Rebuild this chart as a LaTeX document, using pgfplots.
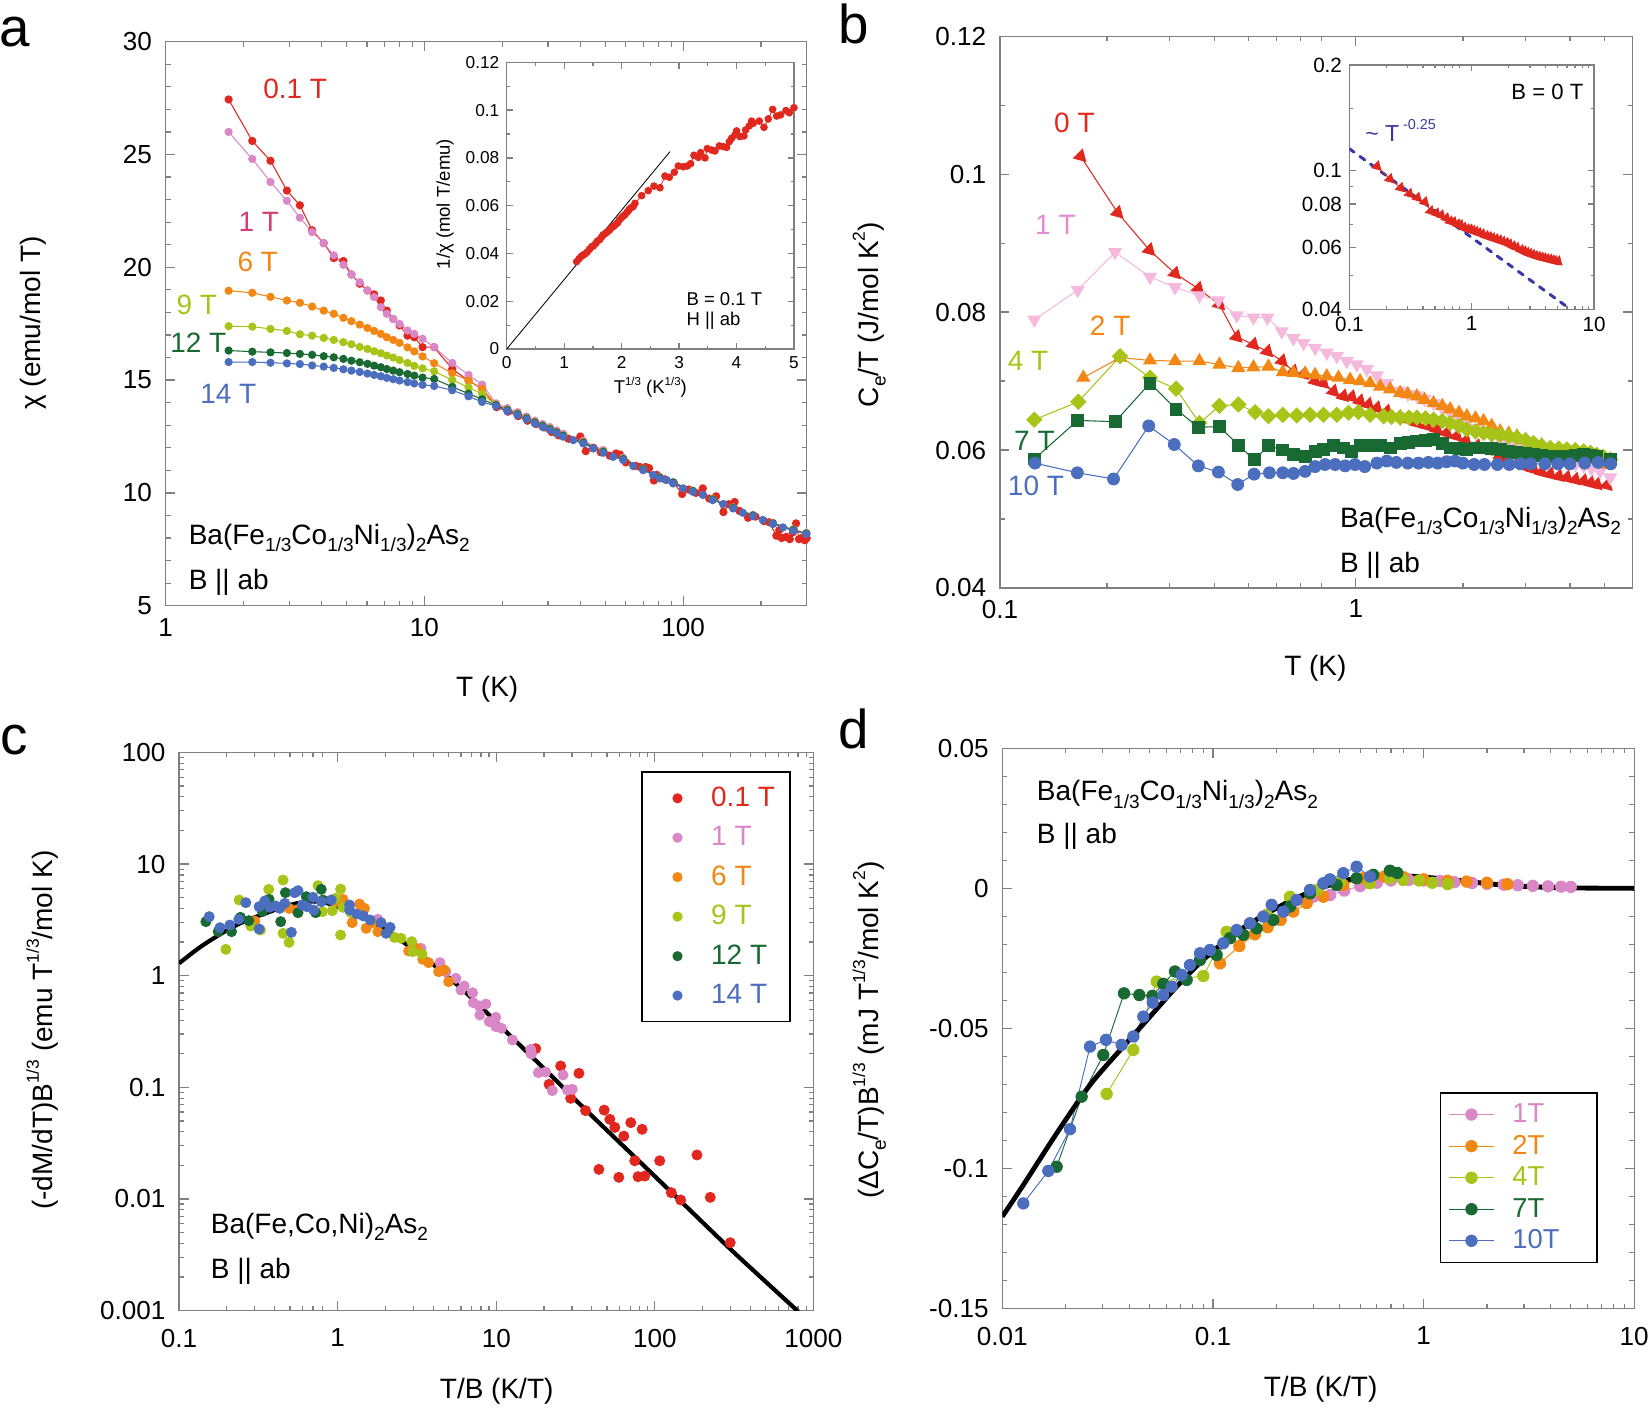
\documentclass[border=0pt]{standalone}
\usepackage{fontspec}
\setmainfont{Liberation Sans}
\usepackage{graphicx}
\usepackage{pgfplots}
\pgfplotsset{compat=1.18}

\newcommand\fs[1]{\fontsize{#1}{#1}\selectfont}
\newcommand\lsub[1]{\raisebox{-0.5ex}{\scalebox{0.68}{#1}}}
\newcommand\lsup[1]{\raisebox{0.9ex}{\scalebox{0.62}{#1}}}

\definecolor{cred}{RGB}{224,40,30}
\definecolor{cpink}{RGB}{218,135,200}
\definecolor{cpinklab}{RGB}{214,60,110}
\definecolor{clpink}{RGB}{246,185,222}
\definecolor{clpinklab}{RGB}{226,140,212}
\definecolor{corange}{RGB}{242,135,20}
\definecolor{cyg}{RGB}{168,196,25}
\definecolor{cdg}{RGB}{25,105,50}
\definecolor{cblue}{RGB}{75,110,190}
\definecolor{cdash}{RGB}{55,55,165}
\definecolor{frame}{RGB}{128,128,128}

\pgfplotsset{
  base/.style={
    scale only axis, anchor=south west,
    axis line style={draw=frame, line width=0.6pt},
    tick style={draw=frame, line width=0.6pt},
    major tick length=4.5pt, minor tick length=2.3pt,
    tick align=inside,
  },
  big/.style={base, ticklabel style={font=\fs{12.4}}, yticklabel style={xshift=-3pt}},
  small/.style={base, major tick length=3pt, minor tick length=1.6pt},
  aser/.style={color=#1, line width=0.5pt, mark=*, mark size=1.7pt, mark options={fill=#1, draw=#1}},
  cser/.style={only marks, color=#1, mark=*, mark size=2.4pt, mark options={fill=#1, draw=#1}},
  dser/.style={color=#1, line width=0.45pt, mark=*, mark size=2.7pt, mark options={fill=#1, draw=#1}},
}

\begin{document}
\begin{tikzpicture}[x=0.5pt,y=-0.5pt, lab/.style={inner sep=0pt, font=\fs{13.3}}]
\path[use as bounding box] (0,0) rectangle (1568,1338);

% ---------------- a: susceptibility
\begin{axis}[big, at={(78.75pt,-287.8pt)}, width=304.55pt, height=268pt,
  xmode=log, xmin=1, xmax=300, ymin=5, ymax=30,
  xtick={1,10,100}, xticklabels={1,10,100},
  minor xtick={2,3,...,9,20,30,...,90,200,300},
  ytick={5,10,15,20,25,30}, yticklabels={5,10,15,20,25,30}, minor y tick num=4,
  xticklabel style={yshift=-2.6pt}]
\addplot[aser=cred] coordinates {(1.75,27.44) (2.16,25.60) (2.54,24.72) (2.94,23.40) (3.30,22.75) (3.68,21.64) (4.08,21.07) (4.46,20.41) (4.86,20.28) (5.22,19.68) (5.62,19.27) (6.02,18.97) (6.39,18.80) (6.78,18.53) (7.15,18.08) (7.57,17.71) (8.01,17.42) (8.60,16.97) (9.13,16.90) (9.83,16.46) (10.9,16.46) (12.8,15.49) (14.8,14.98) (16.7,14.61) (19,13.8) (21,13.6) (23,13.4) (25,13.2) (27,13.05) (29,12.9) (31,12.7) (33,12.55) (36,12.4) (40,12.5) (42,11.85) (45,12.0) (48,11.8) (52,11.65) (55,11.75) (57,11.7) (60,11.35) (65.5,11.2) (68,11.15) (71.6,11.15) (73.8,11.1) (77,10.55) (79,10.8) (85,10.6) (92,10.45) (99,9.95) (105,10.15) (112,10.0) (119,10.2) (126,9.75) (134,9.85) (143,9.15) (150,9.5) (158,9.6) (165,9.2) (178,8.9) (190,8.95) (205,8.75) (215,8.7) (229,8.1) (235,8.35) (240,8.0) (250,8.05) (258,7.95) (265,8.25) (273,8.65) (280,7.95) (286,8.0) (295,7.9) (300,8.0)};
\addplot[aser=cpink] coordinates {(1.75,26.00) (2.16,24.80) (2.54,23.78) (2.94,22.95) (3.30,22.20) (3.68,21.56) (4.08,21.07) (4.46,20.53) (4.86,20.11) (5.22,19.68) (5.62,19.34) (6.02,18.97) (6.39,18.68) (6.78,18.23) (7.15,17.94) (7.57,17.71) (8.01,17.49) (8.60,17.20) (9.13,17.05) (9.83,16.83) (10.9,16.46) (12.8,15.76) (14.8,15.23) (16.7,14.80) (18.9,13.97) (20.9,13.76) (22.9,13.58) (24.8,13.39) (26.7,13.2) (28.6,13.05) (30.5,12.92) (32.4,12.77) (34.4,12.62) (41.1,12.31) (49.1,11.9) (58.6,11.56) (70,11.07) (81.2,10.7) (91.4,10.48) (109,10.1) (130,9.73) (156,9.36) (186,9.02) (222,8.67) (266,8.38) (299,8.22)};
\addplot[aser=corange] coordinates {(1.75,18.96) (2.16,18.87) (2.54,18.69) (2.94,18.53) (3.30,18.43) (3.68,18.26) (4.08,18.08) (4.46,17.94) (4.86,17.76) (5.22,17.61) (5.62,17.46) (6.02,17.31) (6.39,17.18) (6.78,17.05) (7.15,16.90) (7.57,16.78) (8.01,16.65) (8.60,16.45) (9.13,16.27) (9.83,16.05) (10.9,15.75) (12.8,15.30) (14.8,14.98) (16.7,14.61) (18.9,13.91) (20.9,13.69) (22.9,13.51) (24.8,13.32) (26.7,13.14) (28.6,12.99) (30.5,12.85) (32.4,12.7) (34.4,12.55) (41.1,12.25) (49.1,11.84) (58.6,11.5) (70,11.05) (81.2,10.68) (91.4,10.46) (109,10.08) (130,9.71) (156,9.34) (186,9.0) (222,8.65) (266,8.36) (299,8.2)};
\addplot[aser=cyg] coordinates {(1.75,17.39) (2.16,17.37) (2.54,17.27) (2.94,17.18) (3.30,17.03) (3.68,16.97) (4.08,16.87) (4.46,16.78) (4.86,16.68) (5.22,16.59) (5.62,16.47) (6.02,16.38) (6.39,16.28) (6.78,16.19) (7.15,16.09) (7.57,16.00) (8.01,15.89) (8.60,15.76) (9.13,15.63) (9.83,15.52) (10.9,15.39) (12.8,15.00) (14.8,14.68) (16.7,14.38) (18.9,13.9) (20.9,13.68) (22.9,13.5) (24.8,13.31) (26.7,13.13) (28.6,12.98) (30.5,12.84) (32.4,12.69) (34.4,12.54) (41.1,12.24) (49.1,11.83) (58.6,11.51) (70,11.06) (81.2,10.69) (91.4,10.47) (109,10.09) (130,9.72) (156,9.35) (186,9.01) (222,8.66) (266,8.37) (299,8.21)};
\addplot[aser=cdg] coordinates {(1.75,16.31) (2.16,16.26) (2.54,16.23) (2.94,16.20) (3.30,16.16) (3.68,16.12) (4.08,16.06) (4.46,16.01) (4.86,15.94) (5.22,15.86) (5.62,15.79) (6.02,15.72) (6.39,15.64) (6.78,15.57) (7.15,15.49) (7.57,15.42) (8.01,15.35) (8.60,15.27) (9.13,15.20) (9.83,15.11) (10.9,15.05) (12.8,14.7) (14.8,14.4) (16.7,14.15) (18.9,13.89) (20.9,13.67) (22.9,13.49) (24.8,13.3) (26.7,13.12) (28.6,12.97) (30.5,12.83) (32.4,12.68) (34.4,12.53) (41.1,12.23) (49.1,11.82) (58.6,11.5) (70,11.05) (81.2,10.68) (91.4,10.46) (109,10.08) (130,9.71) (156,9.34) (186,9.0) (222,8.65) (266,8.36) (299,8.2)};
\addplot[aser=cblue] coordinates {(1.75,15.80) (2.16,15.80) (2.54,15.77) (2.94,15.74) (3.30,15.71) (3.68,15.65) (4.08,15.60) (4.46,15.54) (4.86,15.48) (5.22,15.42) (5.62,15.36) (6.02,15.29) (6.39,15.23) (6.78,15.17) (7.15,15.10) (7.57,15.04) (8.01,14.98) (8.60,14.91) (9.13,14.85) (9.83,14.79) (10.9,14.74) (12.8,14.55) (14.8,14.28) (16.7,14.03) (18.9,13.85) (20.9,13.63) (22.9,13.45) (24.8,13.26) (26.7,13.08) (28.6,12.93) (30.5,12.79) (32.4,12.64) (34.4,12.49) (37.6,12.34) (41.1,12.19) (44.9,11.97) (49.1,11.78) (53.6,11.60) (58.6,11.46) (64.1,11.19) (70,11.01) (76.5,10.79) (81.2,10.64) (86.2,10.57) (91.4,10.42) (99.9,10.20) (109,10.05) (119,9.91) (130,9.68) (143,9.51) (156,9.31) (170,9.12) (186,8.97) (203,8.80) (222,8.62) (243,8.47) (266,8.33) (299,8.18)};
\end{axis}

% inset of a
\begin{axis}[small, at={(240.75pt,-165.85pt)}, width=136.5pt, height=136.25pt,
  xmin=0, xmax=5, ymin=0, ymax=0.12,
  xtick={0,1,2,3,4,5}, xticklabels={0,1,2,3,4,5}, minor x tick num=1,
  ytick={0,0.02,0.04,0.06,0.08,0.1,0.12}, yticklabels={0,0.02,0.04,0.06,0.08,0.1,0.12}, minor y tick num=1,
  ticklabel style={font=\fs{8.2}}]
\addplot[black, line width=0.4pt] coordinates {(0,0) (2.842,0.0826)};
\addplot[color=cred, line width=0.4pt, mark=*, mark size=1.6pt, mark options={fill=cred, draw=cred}] coordinates {(1.218,0.0366) (1.26,0.0378) (1.30,0.0388) (1.33,0.0393) (1.36,0.0398) (1.40,0.0405) (1.44,0.0417) (1.48,0.0428) (1.51,0.0432) (1.55,0.0442) (1.58,0.0452) (1.62,0.0458) (1.65,0.0468) (1.68,0.0478) (1.72,0.0484) (1.75,0.0490) (1.79,0.0498) (1.82,0.0508) (1.86,0.0513) (1.89,0.0520) (1.93,0.0528) (1.96,0.0540) (2.00,0.0550) (2.03,0.0557) (2.06,0.0563) (2.10,0.0574) (2.13,0.0583) (2.16,0.0591) (2.20,0.0596) (2.233,0.0610) (2.349,0.0642) (2.465,0.0663) (2.564,0.0682) (2.668,0.0675) (2.755,0.0724) (2.831,0.0719) (2.918,0.0740) (2.987,0.0766) (3.074,0.0763) (3.144,0.0766) (3.202,0.0776) (3.260,0.0811) (3.335,0.0802) (3.376,0.0822) (3.451,0.0800) (3.492,0.0839) (3.567,0.0833) (3.625,0.0829) (3.701,0.0850) (3.770,0.0847) (3.828,0.0844) (3.875,0.0868) (3.915,0.0882) (3.973,0.0896) (4.002,0.0913) (4.060,0.0889) (4.130,0.0892) (4.159,0.0917) (4.223,0.0934) (4.263,0.0954) (4.292,0.0945) (4.397,0.0954) (4.478,0.0928) (4.553,0.0963) (4.629,0.1003) (4.698,0.0975) (4.768,0.0980) (4.861,0.0998) (4.919,0.0989) (5.0,0.1010)};
\end{axis}

% ---------------- b: specific heat
\begin{axis}[big, at={(475.15pt,-279.35pt)}, width=300.6pt, height=262.1pt,
  xmode=log, xmin=0.1, xmax=6, ymin=0.04, ymax=0.12,
  xtick={0.1,1}, xticklabels={0.1,1},
  minor xtick={0.2,0.3,...,0.9,2,3,4,5,6},
  ytick={0.04,0.06,0.08,0.1,0.12}, yticklabels={0.04,0.06,0.08,0.1,0.12}, minor y tick num=1,
  xticklabel style={yshift=-2.1pt}]
\addplot[color=cred, line width=0.5pt, mark=triangle*, mark size=3.4pt, mark options={rotate=-15, fill=cred, draw=cred}] coordinates {(0.1685,0.1026) (0.2142,0.0944) (0.263,0.0890) (0.3105,0.0856) (0.361,0.0834) (0.4136,0.0811) (0.4627,0.0764) (0.5157,0.0753) (0.5645,0.0743) (0.6207,0.0729) (0.668,0.0714) (0.7128,0.0710) (0.7685,0.0700) (0.811,0.0697) (0.8654,0.0685) (0.923,0.0678) (0.974,0.0677) (1.028,0.0671) (1.085,0.0666) (1.146,0.0661) (1.222,0.0656) (1.318,0.0648) (1.40,0.0644) (1.485,0.0639) (1.585,0.0635) (1.69,0.0630) (1.80,0.0625) (1.923,0.0620) (2.04,0.0614) (2.19,0.0606) (2.34,0.0600) (2.546,0.0591) (2.69,0.0586) (2.837,0.0581) (2.99,0.0576) (3.16,0.0572) (3.33,0.0568) (3.52,0.0565) (3.72,0.0562) (3.92,0.0560) (4.14,0.0557) (4.37,0.0555) (4.57,0.0552) (4.76,0.0550) (5.08,0.0549)};
\addplot[color=clpink, line width=0.5pt, mark=triangle*, mark size=3.4pt, mark options={rotate=180, fill=clpink, draw=clpink}] coordinates {(0.1249,0.0789) (0.1654,0.0832) (0.2106,0.0887) (0.2641,0.0851) (0.3105,0.0836) (0.3634,0.0824) (0.4110,0.0817) (0.4627,0.0795) (0.5157,0.0792) (0.5645,0.0792) (0.6194,0.0772) (0.668,0.0762) (0.7128,0.0755) (0.7685,0.0748) (0.8288,0.0741) (0.8843,0.0736) (0.9434,0.0729) (1.0065,0.0724) (1.074,0.0717) (1.146,0.0708) (1.222,0.0697) (1.333,0.0686) (1.40,0.0681) (1.485,0.0679) (1.56,0.0674) (1.654,0.0668) (1.75,0.0661) (1.842,0.0654) (1.95,0.0646) (2.052,0.0639) (2.17,0.0632) (2.286,0.0625) (2.41,0.0620) (2.546,0.0615) (2.69,0.0610) (2.837,0.0606) (3.0,0.0601) (3.16,0.0596) (3.33,0.0592) (3.52,0.0589) (3.72,0.0585) (3.92,0.0581) (4.14,0.0579) (4.37,0.0577) (4.6,0.0573) (4.86,0.0569) (5.19,0.0560)};
\addplot[color=corange, line width=0.5pt, mark=triangle*, mark size=3.4pt, mark options={fill=corange, draw=corange}] coordinates {(0.1715,0.0705) (0.2175,0.0734) (0.2641,0.0730) (0.3105,0.0729) (0.3634,0.0729) (0.4136,0.0724) (0.4677,0.0719) (0.5157,0.0720) (0.5682,0.0721) (0.6234,0.0713) (0.668,0.0712) (0.7205,0.0711) (0.7685,0.0709) (0.8288,0.0707) (0.8941,0.0705) (0.9638,0.0702) (1.028,0.0700) (1.097,0.0697) (1.171,0.0692) (1.249,0.0688) (1.333,0.0683) (1.40,0.0681) (1.485,0.0678) (1.56,0.0673) (1.654,0.0668) (1.75,0.0664) (1.842,0.0659) (1.95,0.0654) (2.052,0.0649) (2.17,0.0646) (2.286,0.0642) (2.41,0.0635) (2.546,0.0627) (2.69,0.0624) (2.837,0.0620) (3.0,0.0615) (3.16,0.0610) (3.33,0.0607) (3.52,0.0603) (3.72,0.0600) (3.92,0.0596) (4.14,0.0594) (4.37,0.0591) (4.57,0.0589) (4.76,0.0586) (5.13,0.0579)};
\addplot[color=cyg, line width=0.5pt, mark=square*, mark size=2.5pt, mark options={rotate=45, fill=cyg, draw=cyg}] coordinates {(0.1249,0.0644) (0.1661,0.0670) (0.2175,0.0736) (0.2641,0.0705) (0.3125,0.0689) (0.3634,0.0639) (0.4136,0.0664) (0.4677,0.0666) (0.5212,0.0655) (0.5682,0.0649) (0.6234,0.0651) (0.6825,0.0650) (0.7439,0.0651) (0.811,0.0651) (0.8843,0.0651) (0.9537,0.0654) (1.017,0.0655) (1.097,0.0651) (1.197,0.0649) (1.26,0.0648) (1.333,0.0647) (1.41,0.0647) (1.485,0.0647) (1.57,0.0646) (1.654,0.0644) (1.75,0.0642) (1.842,0.0639) (1.95,0.0635) (2.052,0.0630) (2.17,0.0627) (2.286,0.0625) (2.41,0.0623) (2.546,0.0622) (2.69,0.0620) (2.837,0.0618) (3.0,0.0614) (3.16,0.0610) (3.33,0.0606) (3.52,0.0603) (3.72,0.0602) (3.92,0.0601) (4.14,0.0600) (4.37,0.0598) (4.57,0.0596) (4.76,0.0593) (4.96,0.0590) (5.19,0.0586)};
\addplot[color=cdg, line width=0.5pt, mark=square*, mark size=2.8pt, mark options={fill=cdg, draw=cdg}] coordinates {(0.1249,0.0587) (0.1654,0.0643) (0.2106,0.0641) (0.2641,0.0697) (0.3125,0.0659) (0.361,0.0633) (0.4136,0.0634) (0.4677,0.0607) (0.5178,0.0586) (0.5682,0.0606) (0.6234,0.0600) (0.668,0.0593) (0.7205,0.0591) (0.7685,0.0598) (0.811,0.0601) (0.8654,0.0606) (0.923,0.0603) (0.974,0.0598) (1.028,0.0606) (1.097,0.0607) (1.171,0.0606) (1.249,0.0603) (1.333,0.0610) (1.41,0.0611) (1.485,0.0613) (1.57,0.0614) (1.654,0.0615) (1.75,0.0610) (1.842,0.0603) (1.95,0.0602) (2.052,0.0601) (2.17,0.0603) (2.286,0.0603) (2.41,0.0602) (2.546,0.0601) (2.69,0.0598) (2.837,0.0596) (3.0,0.0595) (3.16,0.0593) (3.33,0.0592) (3.52,0.0591) (3.72,0.0591) (3.92,0.0591) (4.14,0.0592) (4.37,0.0593) (4.57,0.0592) (4.76,0.0591) (5.19,0.0586)};
\addplot[color=cblue, line width=0.5pt, mark=*, mark size=2.8pt, mark options={fill=cblue, draw=cblue}] coordinates {(0.1254,0.0581) (0.165,0.0567) (0.2085,0.0558) (0.2618,0.0635) (0.3089,0.0608) (0.361,0.0577) (0.4110,0.0568) (0.4657,0.0550) (0.5178,0.0565) (0.5718,0.0567) (0.6234,0.0567) (0.668,0.0566) (0.7205,0.0569) (0.7685,0.0576) (0.8197,0.0579) (0.8748,0.0579) (0.9331,0.0577) (0.9943,0.0579) (1.0597,0.0576) (1.146,0.0581) (1.222,0.0584) (1.30,0.0582) (1.40,0.0581) (1.50,0.0581) (1.60,0.0582) (1.70,0.0581) (1.80,0.0583) (1.90,0.0584) (2.0,0.0581) (2.15,0.0579) (2.3,0.0579) (2.5,0.0579) (2.7,0.0579) (2.9,0.0580) (3.1,0.0580) (3.4,0.0580) (3.7,0.0580) (4.0,0.0580) (4.4,0.0581) (4.8,0.0582) (5.2,0.0580)};
\end{axis}

% inset of b
\begin{axis}[small, at={(641.15pt,-146.95pt)}, width=116.25pt, height=116.05pt,
  xmode=log, ymode=log, xmin=0.1, xmax=10, ymin=0.04, ymax=0.2,
  xtick={0.1,1,10}, xticklabels={0.1,1,10},
  minor xtick={0.2,0.3,...,0.9,2,3,...,9},
  ytick={0.04,0.06,0.08,0.1,0.2}, yticklabels={0.04,0.06,0.08,0.1,0.2},
  minor ytick={0.05,0.07,0.09,0.15},
  ticklabel style={font=\fs{9.8}}]
\addplot[color=cdash, line width=1.4pt, dash pattern=on 2.8pt off 3.4pt, line cap=round] coordinates {(0.1,0.1152) (6.17,0.0404)};
\addplot[color=cred, line width=0.4pt, mark=triangle*, mark size=2.6pt, mark options={rotate=-15, fill=cred, draw=cred, solid}] coordinates {(0.1685,0.1026) (0.2142,0.0944) (0.263,0.0890) (0.3105,0.0856) (0.361,0.0834) (0.4136,0.0811) (0.4627,0.0764) (0.5157,0.0753) (0.5645,0.0743) (0.6207,0.0729) (0.668,0.0714) (0.7128,0.0710) (0.7685,0.0700) (0.811,0.0697) (0.8654,0.0685) (0.923,0.0678) (0.974,0.0677) (1.028,0.0671) (1.085,0.0666) (1.146,0.0661) (1.222,0.0656) (1.318,0.0648) (1.40,0.0644) (1.485,0.0639) (1.585,0.0635) (1.69,0.0630) (1.80,0.0625) (1.923,0.0620) (2.04,0.0614) (2.19,0.0606) (2.34,0.0600) (2.546,0.0591) (2.69,0.0586) (2.837,0.0581) (2.99,0.0576) (3.16,0.0572) (3.33,0.0568) (3.52,0.0565) (3.72,0.0562) (3.92,0.0560) (4.14,0.0557) (4.37,0.0555) (4.57,0.0552) (4.76,0.0550) (5.08,0.0549)};
\end{axis}

% ---------------- c: magnetization scaling
\begin{axis}[big, at={(85.1pt,-622.75pt)}, width=301.4pt, height=265.25pt,
  xmode=log, ymode=log, xmin=0.1, xmax=1000, ymin=0.001, ymax=100,
  xtick={0.1,1,10,100,1000}, xticklabels={0.1,1,10,100,1000},
  minor xtick={0.2,0.3,...,0.9,2,3,...,9,20,30,...,90,200,300,...,900},
  ytick={0.001,0.01,0.1,1,10,100}, yticklabels={0.001,0.01,0.1,1,10,100},
  minor ytick={0.002,0.003,0.004,0.005,0.006,0.007,0.008,0.009,0.02,0.03,0.04,0.05,0.06,0.07,0.08,0.09,0.2,0.3,0.4,0.5,0.6,0.7,0.8,0.9,2,3,...,9,20,30,...,90},
  xticklabel style={yshift=-5.2pt},
  legend style={at={(0.728,0.966)}, anchor=north west, draw=black, line width=0.8pt,
    font=\fs{13.3}, inner xsep=5pt, inner ysep=5pt, row sep=4pt},
  legend cell align=left,
  legend image code/.code={\path[draw=none, fill=none] (0pt,0pt) -- (26pt,0pt); \draw[#1, mark size=2pt] plot coordinates {(12pt,0pt)};}]
\addplot[black, line width=2pt, smooth, forget plot] coordinates {(0.1,1.291) (0.1419,1.884) (0.2301,2.844) (0.3733,3.741) (0.5495,4.446) (0.7691,4.603) (1.079,4.009) (1.585,3.155) (2.570,2.018) (4.169,1.205) (6.761,0.6607) (10.94,0.3388) (19.95,0.1479) (36.56,0.0631) (75.51,0.02344) (158.5,0.008511) (316.2,0.003311) (803.5,0.00098)};
\addplot[cser=cred] coordinates {(17.74,0.2221) (21.51,0.1064) (25.48,0.1554) (29.44,0.0798) (33.22,0.1336) (36.59,0.0619) (44.38,0.01843) (47.93,0.0626) (52.04,0.0517) (55.94,0.0438) (59.28,0.01563) (63.73,0.0366) (70.52,0.0483) (74.7,0.0220) (78.4,0.01585) (83.1,0.0421) (86.4,0.01606) (107.3,0.0220) (127.1,0.01139) (145.5,0.0098) (184.3,0.0248) (223.6,0.01035) (298.7,0.00406)};
\addlegendentry{\textcolor{cred}{0.1 T}}
\addplot[cser=cpink] coordinates {(1.791,3.198) (3.354,1.758) (4.417,1.309) (4.818,1.087) (5.569,0.9473) (6.283,0.8087) (5.987,0.7447) (7.089,0.7049) (7.158,0.5736) (7.807,0.5354) (8.600,0.5579) (7.883,0.4446) (9.026,0.3876) (9.938,0.4238) (9.938,0.3498) (10.79,0.3379) (12.65,0.2656) (16.50,0.2191) (16.50,0.2017) (16.7,0.1988) (18.44,0.1354) (20.50,0.1373) (22.58,0.0934) (26.36,0.1291) (28.05,0.0947) (30.16,0.0960)};
\addlegendentry{\textcolor{cpink}{1 T}}
\addplot[cser=corange] coordinates {(0.3001,3.090) (0.4935,4.012) (0.5488,3.876) (0.97,4.6) (1.079,4.831) (1.235,2.985) (1.373,4.388) (1.476,4.012) (1.512,2.657) (1.650,2.985) (1.791,2.480) (2.805,1.664) (3.150,1.758) (3.436,1.402) (3.748,1.309) (4.332,1.087) (4.704,1.125) (5.008,0.8842)};
\addlegendentry{\textcolor{corange}{6 T}}
\addplot[cser=cyg] coordinates {(0.1972,1.722) (0.2392,4.764) (0.2832,2.787) (0.3258,2.566) (0.3675,5.936) (0.4525,7.195) (0.4525,2.396) (0.4935,1.990) (0.7511,6.403) (0.7998,3.746) (0.9245,3.824) (0.9701,4.931) (1.043,5.977) (1.043,2.314) (1.079,4.096) (1.217,3.669) (2.280,2.206) (2.511,2.161) (2.930,2.018) (2.973,1.642) (3.403,1.564)};
\addlegendentry{\textcolor{cyg}{9 T}}
\addplot[cser=cdg] coordinates {(0.1476,3.048) (0.1765,2.480) (0.2141,2.480) (0.2438,3.333) (0.2752,3.112) (0.3354,3.746) (0.3693,4.831) (0.4374,3.048) (0.4681,5.543) (0.5622,3.669) (0.6344,5.103) (0.7261,3.669) (0.7882,5.936) (0.8076,4.764)};
\addlegendentry{\textcolor{cdg}{12 T}}
\addplot[cser=cblue] coordinates {(0.1549,3.379) (0.1809,2.693) (0.2090,2.845) (0.2380,3.198) (0.2634,4.510) (0.3195,4.152) (0.3195,2.620) (0.3469,4.667) (0.3729,4.096) (0.4070,4.210) (0.4311,4.012) (0.4636,4.448) (0.5105,2.446) (0.5358,5.543) (0.5622,5.776) (0.5987,4.297) (0.6405,4.152) (0.6988,5.034) (0.7056,3.876) (0.7882,4.604) (0.9112,4.764) (1.188,4.297) (1.188,3.876) (1.321,3.570) (1.455,3.426) (1.603,3.155) (1.879,2.985) (2.021,2.396) (2.141,2.712)};
\addlegendentry{\textcolor{cblue}{14 T}}
\end{axis}

% ---------------- d: specific heat scaling
\begin{axis}[big, at={(476.25pt,-621.7pt)}, width=300.25pt, height=266.15pt,
  xmode=log, xmin=0.01, xmax=10, ymin=-0.15, ymax=0.05,
  xtick={0.01,0.1,1,10}, xticklabels={0.01,0.1,1,10},
  minor xtick={0.02,0.03,0.04,0.05,0.06,0.07,0.08,0.09,0.2,0.3,...,0.9,2,3,...,9},
  ytick={-0.15,-0.1,-0.05,0,0.05}, yticklabels={-0.15,-0.1,-0.05,0,0.05}, minor y tick num=4,
  xticklabel style={yshift=-5.2pt},
  legend style={at={(0.692,0.386)}, anchor=north west, draw=black, line width=0.8pt,
    font=\fs{13}, inner xsep=4pt, inner ysep=3pt, row sep=0.5pt},
  legend cell align=left,
  legend image code/.code={\path[draw=none, fill=none] (0pt,0pt) -- (28pt,0pt); \draw[mark repeat=2, mark phase=2, #1] plot coordinates {(0cm,0cm) (0.37cm,0cm) (0.74cm,0cm)};}]
\addplot[dser=cpink] coordinates {(0.30,-0.003) (0.36,-0.0024) (0.42,-0.0008) (0.5,0.0008) (0.6,0.002) (0.7,0.0028) (0.85,0.003) (1.0,0.0028) (1.2,0.0026) (1.4,0.0022) (1.7,0.0019) (2.0,0.0016) (2.4,0.0013) (2.8,0.0011) (3.3,0.0009) (3.9,0.0007) (4.5,0.0006) (5.0,0.0005)};
\addlegendentry{\textcolor{cpink}{1T}}
\addplot[dser=corange] coordinates {(0.1080,-0.0268) (0.1334,-0.0206) (0.1583,-0.0164) (0.1818,-0.0139) (0.2096,-0.0113) (0.2407,-0.0083) (0.2785,-0.0053) (0.3342,-0.0030) (0.4157,0.0012) (0.5172,0.0036) (0.65,0.0042) (0.8,0.004) (1.0,0.0032) (1.3,0.0027) (1.6,0.0024) (2.0,0.002) (2.5,0.0015)};
\addlegendentry{\textcolor{corange}{2T}}
\addplot[dser=cyg] coordinates {(0.03128,-0.0734) (0.04188,-0.0577) (0.05405,-0.0333) (0.09001,-0.0313) (0.1161,-0.0155) (0.1498,-0.0125) (0.1798,-0.0095) (0.2320,-0.0030) (0.3105,-0.0006) (0.4009,0.0024) (0.5563,0.0018) (0.6922,0.0036) (0.8,0.003) (0.95,0.0028) (1.1,0.002) (1.3,0.0015)};
\addlegendentry{\textcolor{cyg}{4T}}
\addplot[dser=cdg] coordinates {(0.01811,-0.0994) (0.02380,-0.0744) (0.03017,-0.0595) (0.03783,-0.0375) (0.04472,-0.0381) (0.05156,-0.0384) (0.05812,-0.0341) (0.06602,-0.0297) (0.07501,-0.0327) (0.08680,-0.0256) (0.1041,-0.0238) (0.1205,-0.0178) (0.1393,-0.0166) (0.1612,-0.0143) (0.1934,-0.0113) (0.2320,-0.0065) (0.2888,-0.0018) (0.3865,0.0012) (0.4809,0.0036) (0.5771,0.0048) (0.6922,0.0063) (0.75,0.0055)};
\addlegendentry{\textcolor{cdg}{7T}}
\addplot[dser=cblue] coordinates {(0.01258,-0.1125) (0.01654,-0.1009) (0.02096,-0.0860) (0.02608,-0.0565) (0.03106,-0.0541) (0.03686,-0.0559) (0.04188,-0.0529) (0.04671,-0.0458) (0.05175,-0.0408) (0.05812,-0.0381) (0.06368,-0.0351) (0.07102,-0.0309) (0.07780,-0.0274) (0.08680,-0.0232) (0.09680,-0.0220) (0.1120,-0.0196) (0.1296,-0.0149) (0.1498,-0.0125) (0.1734,-0.0101) (0.1899,-0.0059) (0.2158,-0.0083) (0.2496,-0.0042) (0.2888,-0.0006) (0.3342,0.0018) (0.3592,0.0032) (0.4157,0.0054) (0.4809,0.0077) (0.5563,0.0042)};
\addlegendentry{\makebox[34pt][l]{\textcolor{cblue}{10T}}}
\addplot[black, line width=2.3pt, smooth, forget plot] coordinates {(0.01,-0.1172) (0.01259,-0.1059) (0.01811,-0.0875) (0.02608,-0.0702) (0.03753,-0.0565) (0.05025,-0.0458) (0.06725,-0.0351) (0.09333,-0.0244) (0.1344,-0.0149) (0.1934,-0.0077) (0.2785,-0.0018) (0.4009,0.0024) (0.5771,0.0044) (0.8307,0.0044) (1.2,0.0035) (1.6,0.0025) (2.2,0.0014) (3,0.0007) (4.5,0.0002) (7,0.00005) (10,0)};
\end{axis}

% ---------------- texts
\node[lab, font=\fs{26}, anchor=base] at (14,44) {a};
\node[lab, font=\fs{26}, anchor=base] at (811,41) {b};
\node[lab, font=\fs{26}, anchor=base] at (13,717) {c};
\node[lab, font=\fs{26}, anchor=base] at (811,711) {d};

% a
\node[lab, rotate=90] at (32,307) {χ (emu/mol T)};
\node[lab] at (463,655) {T (K)};
\node[lab, text=cred] at (280.5,84.5) {0.1 T};
\node[lab, text=cpinklab] at (246,211) {1 T};
\node[lab, text=corange] at (245,248.5) {6 T};
\node[lab, text=cyg] at (187,290) {9 T};
\node[lab, text=cdg] at (188.5,325.5) {12 T};
\node[lab, text=cblue] at (217,374) {14 T};
\node[lab, anchor=base west] at (179,517) {Ba(Fe\lsub{1/3}Co\lsub{1/3}Ni\lsub{1/3})\lsub{2}As\lsub{2}};
\node[lab, anchor=base west] at (179,560) {B || ab};
\node[lab, rotate=90, font=\fs{8.8}] at (423,194) {1/χ (mol T/emu)};
\node[lab, font=\fs{8.8}] at (618,368) {T\lsup{1/3} (K\lsup{1/3})};
\node[lab, anchor=base west, font=\fs{8.8}] at (652,290) {B = 0.1 T};
\node[lab, anchor=base west, font=\fs{8.8}] at (652,309) {H || ab};

% b
\node[lab, rotate=90] at (826,299) {C\lsub{e}/T (J/mol K\lsup{2})};
\node[lab] at (1250,635) {T (K)};
\node[lab, text=cred] at (1021,117) {0 T};
\node[lab, text=clpinklab] at (1003,214) {1 T};
\node[lab, text=corange] at (1055,310) {2 T};
\node[lab, text=cyg] at (977,343) {4 T};
\node[lab, text=cdg] at (983,419) {7 T};
\node[lab, text=cblue] at (984.5,462) {10 T};
\node[lab, anchor=base west] at (1273,501) {Ba(Fe\lsub{1/3}Co\lsub{1/3}Ni\lsub{1/3})\lsub{2}As\lsub{2}};
\node[lab, anchor=base west] at (1273,544) {B || ab};
\node[lab, anchor=west, text=cdash, font=\fs{11}] at (1297,124) {\textasciitilde\ T\,\lsup{-0.25}};
\node[lab, anchor=east, font=\fs{10.5}] at (1505,87) {B = 0 T};

% c
\node[lab, rotate=90] at (40,979) {(-dM/dT)B\lsup{1/3} (emu T\lsup{1/3}/mol K)};
\node[lab] at (472,1322) {T/B (K/T)};
\node[lab, anchor=base west] at (200,1172) {Ba(Fe,Co,Ni)\lsub{2}As\lsub{2}};
\node[lab, anchor=base west] at (200,1215) {B || ab};

% d
\node[lab, rotate=90] at (826,979) {(ΔC\lsub{e}/T)B\lsup{1/3} (mJ T\lsup{1/3}/mol K\lsup{2})};
\node[lab] at (1255,1320) {T/B (K/T)};
\node[lab, anchor=base west] at (985,761) {Ba(Fe\lsub{1/3}Co\lsub{1/3}Ni\lsub{1/3})\lsub{2}As\lsub{2}};
\node[lab, anchor=base west] at (985,802) {B || ab};
\end{tikzpicture}
\end{document}
